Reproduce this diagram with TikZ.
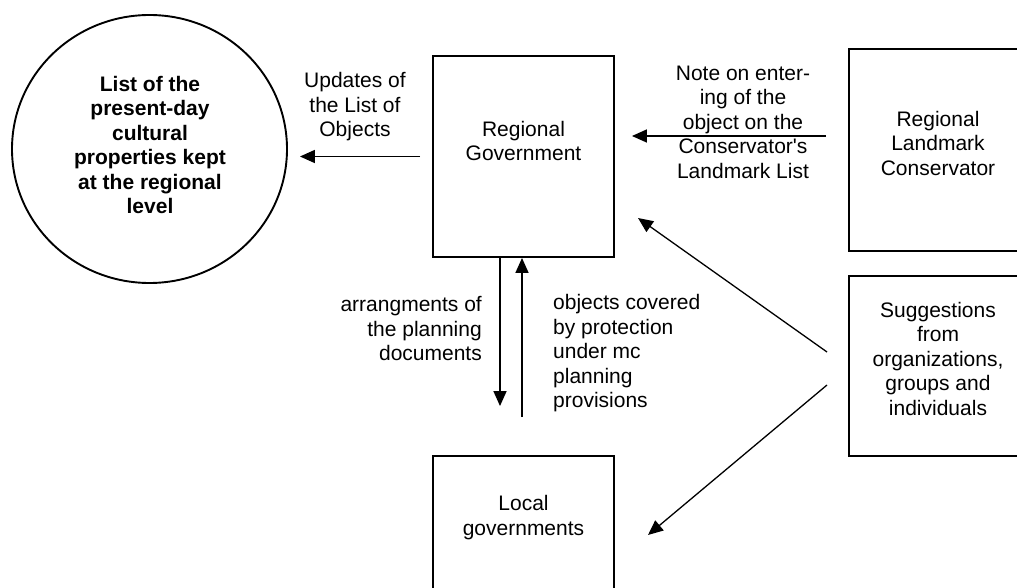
\documentclass[tikz,border=0pt]{standalone}
\usepackage{fontspec}
\setmainfont{Liberation Sans}
\newfontfamily\plainapo{Liberation Sans}
\usetikzlibrary{arrows.meta,shapes.geometric,calc}
\begin{document}
\begin{tikzpicture}[x=1pt,y=-1pt,
  base/.style={font=\fontsize{21}{24.5}\selectfont},
  box/.style={draw, line width=1.9pt, inner sep=0pt},
  txt/.style={base, align=center, inner sep=0pt},
  arr/.style={line width=1.6pt, -{Triangle[length=15pt,width=13pt]}},
  darr/.style={line width=1.3pt, -{Triangle[length=15pt,width=13pt]}}]
\useasboundingbox (0,0) rectangle (1017,588);
\fill[white] (0,0) rectangle (1017,588);
\clip (0,0) rectangle (1017,588);

% shapes
\node[draw, ellipse, line width=1.9pt, inner sep=0pt, minimum width=275pt, minimum height=268pt] (circ) at (149.5,149) {};
\node[box, minimum width=181pt, minimum height=201pt] (rg) at (523.5,156.5) {};
\node[box, minimum width=178pt, minimum height=202pt] (cons) at (938,150) {};
\node[box, minimum width=178pt, minimum height=180pt] (sug) at (938,366) {};
\node[box, minimum width=181pt, minimum height=184pt] (lg) at (523.5,548) {};

% texts in shapes
\node[txt, font=\fontsize{21}{24.5}\selectfont\bfseries] (tcirc) at (150,145) {List of the\\present-day\\cultural\\properties kept\\at the regional\\level};
\node[txt] (trg) at (523.5,141) {Regional\\Government};
\node[txt] (tcons) at (938,143) {Regional\\Landmark\\Conservator};
\node[txt] (tsug) at (938,358.5) {Suggestions\\from\\organizations,\\groups and\\individuals};
\node[txt] (tlg) at (523.5,517.5) {Local\\governments};

% connector end points
\coordinate (d1s) at (827,352);
\coordinate (d1e) at (638,218);
\coordinate (d2s) at (827,385);
\coordinate (d2e) at (648,535);

% connectors
\draw[arr, shorten <=12pt, shorten >=12pt] (rg.west) -- (circ.east |- rg.west);
\draw[arr, shorten <=22pt, shorten >=17pt] (cons.west |- 0,136) -- (rg.east |- 0,136);
\draw[arr, shorten >=49pt] (rg.south -| 500,0) -- (lg.north -| 500,0);
\draw[arr, shorten <=38pt] (lg.north -| 522,0) -- (rg.south -| 522,0);
\draw[darr] (d1s) -- (d1e);
\draw[darr] (d2s) -- (d2e);

% connector labels
\node[txt] (lupd) at (355,107) {Updates of\\the List of\\Objects};
\node[txt] (lnote) at (743,122) {Note on enter-\\ing of the\\object on the\\Conservator{\plainapo'}s\\Landmark List};
\node[base, align=right, inner sep=0pt, anchor=east] (larr) at (482,329) {arrangments of\\the planning\\documents};
\node[base, align=left, inner sep=0pt, anchor=west] (lobj) at (553,353.5) {objects covered\\by protection\\under mc\\planning\\provisions};
\end{tikzpicture}
\end{document}
